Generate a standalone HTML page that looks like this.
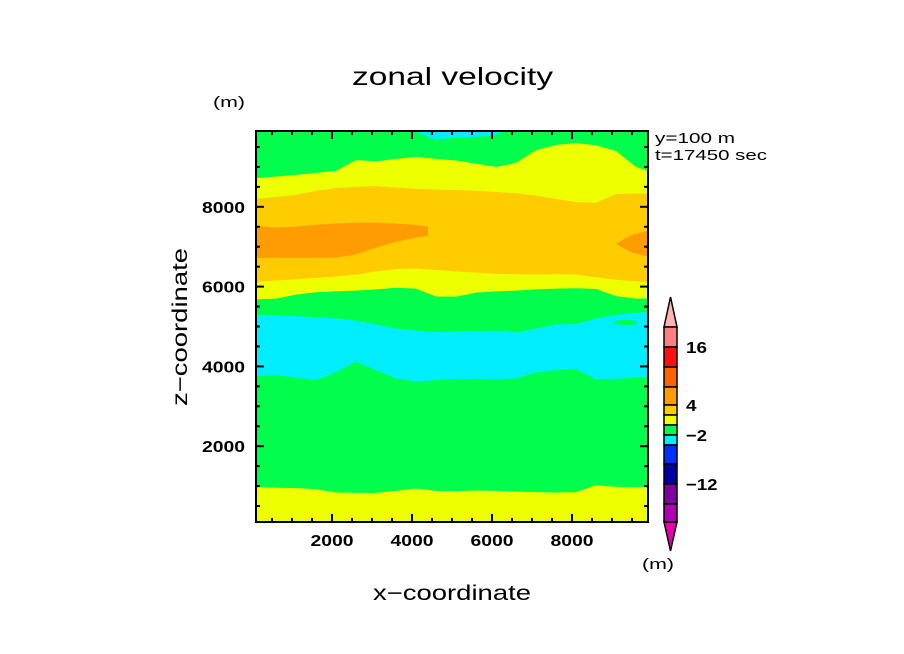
<!DOCTYPE html>
<html><head><meta charset="utf-8"><style>
body{margin:0;background:#fff}
svg{display:block;font-family:"Liberation Sans",sans-serif}
</style></head><body>
<svg id="chart" width="904" height="654" viewBox="0 0 904 654" xmlns="http://www.w3.org/2000/svg">
<rect width="904" height="654" fill="#fff"/>
<text x="352" y="85" font-size="25" textLength="201" lengthAdjust="spacingAndGlyphs">zonal velocity</text>
<text x="213" y="107" font-size="15" textLength="32" lengthAdjust="spacingAndGlyphs">(m)</text>
<text x="655" y="143" font-size="15" textLength="80" lengthAdjust="spacingAndGlyphs">y=100 m</text>
<text x="655" y="160" font-size="15" textLength="112" lengthAdjust="spacingAndGlyphs">t=17450 sec</text>
<g id="plot"></g>
<g id="axes"></g>
<g id="cbar"></g>
<text x="452" y="600" font-size="21" text-anchor="middle" textLength="158" lengthAdjust="spacingAndGlyphs">x−coordinate</text>
<text transform="translate(187,327) rotate(-90)" font-size="21" text-anchor="middle" textLength="158" lengthAdjust="spacingAndGlyphs">z−coordinate</text>
<text x="642" y="569" font-size="15" textLength="32" lengthAdjust="spacingAndGlyphs">(m)</text>
</svg>
<script>
const xs = [100,600,1100,1600,2100,2600,3100,3600,4100,4600,5100,5600,6100,6600,7100,7600,8100,8600,9100,9600,9900];
const c1 = [975,960,950,920,840,830,830,880,940,880,870,890,880,860,850,840,850,1020,980,975,975];
const c2 = [3750,3780,3720,3660,3850,4120,3900,3700,3620,3660,3680,3690,3680,3700,3850,3900,3930,3680,3690,3720,3740];
const c3 = [5300,5280,5260,5230,5200,5150,5050,4950,4900,4860,4870,4880,4900,4850,4950,5050,5060,5200,5290,5340,5360];
const c4 = [5680,5700,5800,5860,5880,5900,5930,5970,5950,5750,5750,5850,5880,5900,5930,5950,5960,5940,5760,5700,5700];
const c5 = [6120,6150,6180,6220,6250,6300,6380,6440,6450,6420,6380,6350,6320,6310,6300,6310,6300,6230,6170,6130,6120];
const c6 = [8200,8250,8300,8400,8470,8500,8520,8480,8450,8430,8420,8400,8370,8340,8280,8200,8120,8100,8320,8330,8330];
const c7 = [8720,8760,8800,8850,8900,9170,9140,9200,9250,9200,9160,9080,9000,9100,9420,9550,9600,9540,9400,9000,8900];
const blobXs = [100,600,1100,1600,2100,2600,3100,3600,4100,4400];
const blobUp = [7520,7480,7500,7550,7580,7600,7600,7580,7550,7500];
const blobLo = [6720,6720,6720,6720,6730,6800,6980,7120,7230,7280];
const blob2Xs = [9100,9500,9900];
const blob2Up = [7075,7300,7400];
const blob2Lo = [7075,6850,6750];
const topXs = [4100,4500,5000,6000,6300];
const topLo = [9900,9700,9720,9780,9900];
const xTicks = [2000,4000,6000,8000];
const yTicks = [2000,4000,6000,8000];
const cbColors = ['#ff8080','#ff1010','#ff6400','#ff9c00','#ffcc00','#eeff00','#00ff4c','#00eeff','#0030ff','#0000a0','#8000a0','#b000b0'];
const cbLevels = [20,16,12,8,4,2,0,-2,-4,-8,-12,-16,-20];
const cbLabels = ['16','4','-2','-12'];

const NS='http://www.w3.org/2000/svg';
const X0=100,X1=9900,Z0=100,Z1=9900, PL=256,PR=648,PT=131,PB=522;
const sx=v=>PL+(v-X0)/(X1-X0)*(PR-PL);
const sz=v=>PB-(v-Z0)/(Z1-Z0)*(PB-PT);
function mk(tag,parent,attrs){const e=document.createElementNS(NS,tag);for(const k in attrs)e.setAttribute(k,attrs[k]);parent.appendChild(e);return e;}
const plot=document.getElementById('plot');
function band(x,lo,hi,color,name){
  let d='M'+x.map((v,i)=>sx(v)+','+sz(hi[i])).join('L');
  for(let i=x.length-1;i>=0;i--) d+='L'+sx(x[i])+','+sz(lo[i]);
  const p=mk('path',plot,{d:d+'Z',fill:color});
  
  
}
const bg=mk('rect',plot,{x:PL,y:PT,width:PR-PL,height:PB-PT,fill:'#00ff4c'});


band(xs,xs.map(()=>Z0),c1,'#eeff00','bottom-yellow-band');
band(xs,c2,c3,'#00eeff','cyan-band');
band(xs,c4,c7,'#eeff00','upper-yellow-band');
band(xs,c5,c6,'#ffcc00','gold-band');
band(blobXs,blobLo,blobUp,'#ff9c00','orange-blob-left');
band(blob2Xs,blob2Lo,blob2Up,'#ff9c00','orange-blob-right');
band(topXs,topLo,topXs.map(()=>Z1),'#00eeff','top-cyan-patch');
const gb=mk('ellipse',plot,{cx:sx(9350),cy:sz(5100),rx:12,ry:2.5,fill:'#00ff4c'});



const axes=document.getElementById('axes');
const fr=mk('rect',axes,{x:PL,y:PT,width:PR-PL,height:PB-PT,fill:'none',stroke:'#000','stroke-width':2});


for(let v=500;v<=9500;v+=500){
  const major=v%2000===0, L=major?8:4;
  const x=sx(v), z=sz(v);
  mk('line',axes,{x1:x,y1:PB,x2:x,y2:PB-L,stroke:'#000','stroke-width':2});
  mk('line',axes,{x1:x,y1:PT,x2:x,y2:PT+L,stroke:'#000','stroke-width':2});
  mk('line',axes,{x1:PL,y1:z,x2:PL+L,y2:z,stroke:'#000','stroke-width':2});
  mk('line',axes,{x1:PR,y1:z,x2:PR-L,y2:z,stroke:'#000','stroke-width':2});
}
xTicks.forEach(v=>{const t=mk('text',axes,{x:sx(v),y:546,'font-size':16,'text-anchor':'middle','font-weight':'bold',textLength:43,lengthAdjust:'spacingAndGlyphs'});t.textContent=v;

});
yTicks.forEach(v=>{const t=mk('text',axes,{x:245,y:sz(v)+6,'font-size':16,'text-anchor':'end','font-weight':'bold',textLength:43,lengthAdjust:'spacingAndGlyphs'});t.textContent=v;

});

const cb=document.getElementById('cbar');
const cbY=[327,347,367,387,405,415,425,435,445,464,484,504,522];
const CL=664,CR=677;
const up=mk('path',cb,{d:`M${CL},${cbY[0]}L${(CL+CR)/2},297L${CR},${cbY[0]}Z`,fill:'#ffb4b4',stroke:'#000','stroke-width':1.5});


const dn=mk('path',cb,{d:`M${CL},${cbY[12]}L${(CL+CR)/2},551L${CR},${cbY[12]}Z`,fill:'#e800b0',stroke:'#000','stroke-width':1.5});


cbColors.forEach((c,i)=>{const r=mk('rect',cb,{x:CL,y:cbY[i],width:CR-CL,height:cbY[i+1]-cbY[i],fill:c,stroke:'#000','stroke-width':1.5});

});
cbLabels.forEach(s=>{const i=cbLevels.indexOf(Number(s));const t=mk('text',cb,{x:686,y:cbY[i]+6,'font-size':16,'font-weight':'bold',textLength:s.length*10.5,lengthAdjust:'spacingAndGlyphs'});t.textContent=s.replace('-','−');

});
</script>
</body></html>
